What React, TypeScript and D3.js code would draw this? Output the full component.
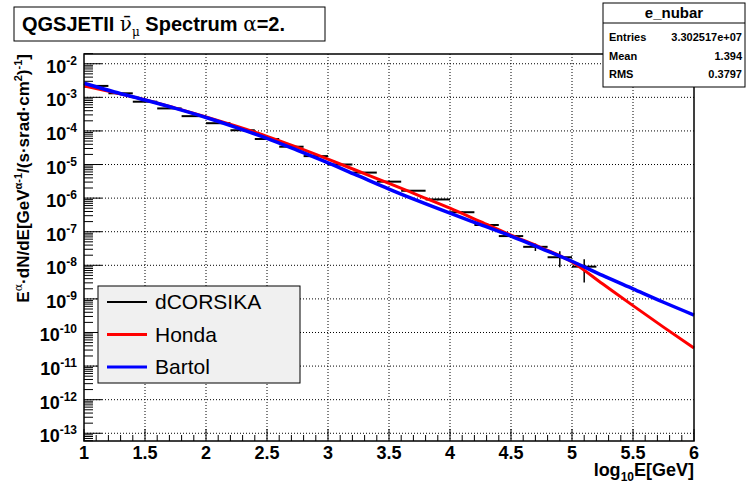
import React, { useEffect, useRef } from 'react';
import * as d3 from 'd3';

// axis labels
const xTickValues = [1, 1.5, 2, 2.5, 3, 3.5, 4, 4.5, 5, 5.5, 6];
const xTickLabels = ['1', '1.5', '2', '2.5', '3', '3.5', '4', '4.5', '5', '5.5', '6'];
const yDecades = [-2, -3, -4, -5, -6, -7, -8, -9, -10, -11, -12, -13];

// model curves, log10 of flux
const curveX = [1, 1.25, 1.5, 1.75, 2, 2.25, 2.5, 2.75, 3, 3.25, 3.5, 3.75, 4, 4.25, 4.5, 4.75, 5, 5.25, 5.5, 5.75, 6];
const hondaLog10 = [-2.66, -2.86, -3.07, -3.32, -3.58, -3.86, -4.16, -4.49, -4.84, -5.2, -5.56, -5.93, -6.3, -6.7, -7.1, -7.48, -7.9, -8.55, -9.2, -9.84, -10.46];
const bartolLog10 = [-2.58, -2.84, -3.08, -3.33, -3.6, -3.9, -4.22, -4.58, -4.95, -5.34, -5.73, -6.1, -6.45, -6.79, -7.13, -7.5, -7.88, -8.3, -8.7, -9.1, -9.48];

// dCORSIKA histogram (bin width 0.2)
const binWidth = 0.2;
const dcorsikaCenters = [1.1, 1.3, 1.5, 1.7, 1.9, 2.1, 2.3, 2.5, 2.7, 2.9, 3.1, 3.3, 3.5, 3.7, 3.9, 4.1, 4.3, 4.5, 4.7, 4.9, 5.1];
const dcorsikaLog10 = [-2.66, -2.88, -3.13, -3.33, -3.56, -3.77, -3.98, -4.24, -4.47, -4.75, -5.0, -5.24, -5.51, -5.78, -6.04, -6.42, -6.8, -7.13, -7.45, -7.76, -8.04];
const dcorsikaRelErr = [0.01, 0.01, 0.01, 0.01, 0.01, 0.01, 0.01, 0.01, 0.02, 0.02, 0.02, 0.03, 0.03, 0.04, 0.05, 0.06, 0.08, 0.12, 0.25, 0.5, 0.66];

const legendNames = ['dCORSIKA', 'Honda', 'Bartol'];
const legendColors = ['#000000', '#ff0000', '#0000ff'];
const legendWidths = [2, 3, 3];

const statsLabels = ['Entries', 'Mean', 'RMS'];
const statsValues = ['3.302517e+07', '1.394', '0.3797'];

const FONT = 'Liberation Sans, Arial, Helvetica, sans-serif';
const GREEK = 'DejaVu Serif, serif';

const App: React.FC = () => {
  const svgRef = useRef<SVGSVGElement>(null);

  useEffect(() => {
    if (!svgRef.current) return;
    const svg = d3.select(svgRef.current);
    svg.selectAll('*').remove();

    const left = 84, right = 694, top = 54, bottom = 441;
    const x = d3.scaleLinear().domain([1, 6]).range([left, right]);
    const y = d3.scaleLog().domain([Math.pow(10, -13.23), Math.pow(10, -1.71)]).range([bottom, top]);

    svg.append('rect').attr('width', 747).attr('height', 484).attr('fill', '#fff');

    // grid
    const grid = svg.append('g').attr('stroke', '#000').attr('stroke-width', 1).attr('stroke-dasharray', '1,2');
    xTickValues.slice(1, -1).forEach(v => {
      grid.append('line').attr('x1', x(v)).attr('x2', x(v)).attr('y1', top).attr('y2', bottom);
    });
    yDecades.forEach(e => {
      grid.append('line').attr('x1', left).attr('x2', right).attr('y1', y(Math.pow(10, e))).attr('y2', y(Math.pow(10, e)));
    });

    // ticks
    const ticks = svg.append('g').attr('stroke', '#000').attr('stroke-width', 1);
    for (let i = 0; i <= 50; i++) {
      const v = 1 + i * 0.1;
      const len = i % 5 === 0 ? 12 : 6;
      ticks.append('line').attr('x1', x(v)).attr('x2', x(v)).attr('y1', bottom).attr('y2', bottom - len);
    }
    for (let e = -14; e <= -1; e++) {
      for (let m = 1; m <= 9; m++) {
        const v = m * Math.pow(10, e);
        const py = y(v);
        if (py < top - 0.5 || py > bottom + 0.5) continue;
        const len = m === 1 ? 18 : 9;
        ticks.append('line').attr('x1', left).attr('x2', left + len).attr('y1', py).attr('y2', py);
      }
    }

    // dCORSIKA histogram with errors
    const hist = svg.append('g').attr('stroke', '#000').attr('fill', 'none');
    dcorsikaCenters.forEach((c, i) => {
      const v = Math.pow(10, dcorsikaLog10[i]);
      const r = dcorsikaRelErr[i];
      hist.append('line').attr('stroke-width', 2)
        .attr('x1', x(c - binWidth / 2)).attr('x2', x(c + binWidth / 2))
        .attr('y1', y(v)).attr('y2', y(v));
      hist.append('line').attr('stroke-width', 1.5)
        .attr('x1', x(c)).attr('x2', x(c))
        .attr('y1', y(v * (1 + r))).attr('y2', y(Math.max(v * (1 - r), 1e-20)));
    });

    // model curves
    const line = d3.line<number>()
      .x((_, i) => x(curveX[i]))
      .y(d => y(Math.pow(10, d)))
      .curve(d3.curveMonotoneX);
    svg.append('path').attr('d', line(hondaLog10)).attr('fill', 'none').attr('stroke', '#ff0000').attr('stroke-width', 3);
    svg.append('path').attr('d', line(bartolLog10)).attr('fill', 'none').attr('stroke', '#0000ff').attr('stroke-width', 3.5);

    // frame
    svg.append('rect').attr('x', left).attr('y', top).attr('width', right - left).attr('height', bottom - top)
      .attr('fill', 'none').attr('stroke', '#000').attr('stroke-width', 1.5);

    // x tick labels
    xTickValues.forEach((v, i) => {
      svg.append('text').attr('x', x(v)).attr('y', 459).attr('text-anchor', 'middle')
        .attr('font-family', FONT).attr('font-weight', 'bold').attr('font-size', 18).text(xTickLabels[i]);
    });

    // y tick labels
    yDecades.forEach(e => {
      const t = svg.append('text').attr('x', 77).attr('y', y(Math.pow(10, e)) + 9).attr('text-anchor', 'end')
        .attr('font-family', FONT).attr('font-weight', 'bold').attr('font-size', 18);
      t.append('tspan').text('10');
      t.append('tspan').attr('font-size', 12).attr('dy', -8).text(String(e));
    });

    // x title
    const xt = svg.append('text').attr('x', right).attr('y', 476).attr('text-anchor', 'end')
      .attr('font-family', FONT).attr('font-weight', 'bold').attr('font-size', 18);
    xt.append('tspan').text('log');
    xt.append('tspan').attr('font-size', 12).attr('dy', 5).text('10');
    xt.append('tspan').attr('dy', -5).text('E[GeV]');

    // y title
    const yt = svg.append('text').attr('transform', 'translate(29,54) rotate(-90)').attr('text-anchor', 'end')
      .attr('font-family', FONT).attr('font-weight', 'bold').attr('font-size', 17);
    yt.append('tspan').text('E');
    yt.append('tspan').attr('font-family', GREEK).attr('font-weight', 'normal').attr('font-size', 11).attr('dy', -7).text('α');
    yt.append('tspan').attr('dy', 7).text('·dN/dE[GeV');
    yt.append('tspan').attr('font-size', 11).attr('dy', -7).text('α-1');
    yt.append('tspan').attr('dy', 7).text('/(s·srad·cm');
    yt.append('tspan').attr('font-size', 11).attr('dy', -7).text('2');
    yt.append('tspan').attr('dy', 7).text(')');
    yt.append('tspan').attr('font-size', 11).attr('dy', -7).text('-1');
    yt.append('tspan').attr('dy', 7).text(']');

    // legend
    const lg = svg.append('g');
    lg.append('rect').attr('x', 98).attr('y', 286).attr('width', 202).attr('height', 97)
      .attr('fill', '#f0f0f0').attr('stroke', '#000').attr('stroke-width', 1);
    legendNames.forEach((n, i) => {
      const ly = 302 + i * 32.5;
      lg.append('line').attr('x1', 107).attr('x2', 147).attr('y1', ly).attr('y2', ly)
        .attr('stroke', legendColors[i]).attr('stroke-width', legendWidths[i]);
      lg.append('text').attr('x', 155).attr('y', ly + 7).attr('font-family', FONT).attr('font-size', 21).text(n);
    });

    // title box
    svg.append('rect').attr('x', 14).attr('y', 7).attr('width', 311).attr('height', 34)
      .attr('fill', '#fff').attr('stroke', '#000').attr('stroke-width', 1);
    const tt = svg.append('text').attr('x', 22).attr('y', 31)
      .attr('font-family', FONT).attr('font-weight', 'bold').attr('font-size', 20);
    tt.append('tspan').text('QGSJETII ');
    tt.append('tspan').attr('font-family', GREEK).attr('font-weight', 'normal').text('ν\u0304');
    tt.append('tspan').attr('font-family', GREEK).attr('font-weight', 'normal').attr('font-size', 12).attr('dy', 5).text('μ');
    tt.append('tspan').attr('dy', -5).text(' Spectrum ');
    tt.append('tspan').attr('font-family', GREEK).attr('font-weight', 'normal').text('α');
    tt.append('tspan').text('=2.');

    // stats box
    const sb = svg.append('g');
    sb.append('rect').attr('x', 603).attr('y', 3).attr('width', 142).attr('height', 84)
      .attr('fill', '#fff').attr('stroke', '#000').attr('stroke-width', 1);
    sb.append('line').attr('x1', 603).attr('x2', 745).attr('y1', 23).attr('y2', 23).attr('stroke', '#000');
    sb.append('text').attr('x', 674).attr('y', 18).attr('text-anchor', 'middle')
      .attr('font-family', FONT).attr('font-weight', 'bold').attr('font-size', 15).text('e_nubar');
    statsLabels.forEach((l, i) => {
      const by = 41 + i * 18.7;
      sb.append('text').attr('x', 609).attr('y', by).attr('font-family', FONT).attr('font-weight', 'bold').attr('font-size', 11).text(l);
      sb.append('text').attr('x', 742).attr('y', by).attr('text-anchor', 'end').attr('font-family', FONT).attr('font-weight', 'bold').attr('font-size', 11).text(statsValues[i]);
    });
  }, []);

  return (
    <svg ref={svgRef} width={747} height={484} style={{ position: 'absolute', left: 0, top: 0 }} />
  );
};

export default App;
